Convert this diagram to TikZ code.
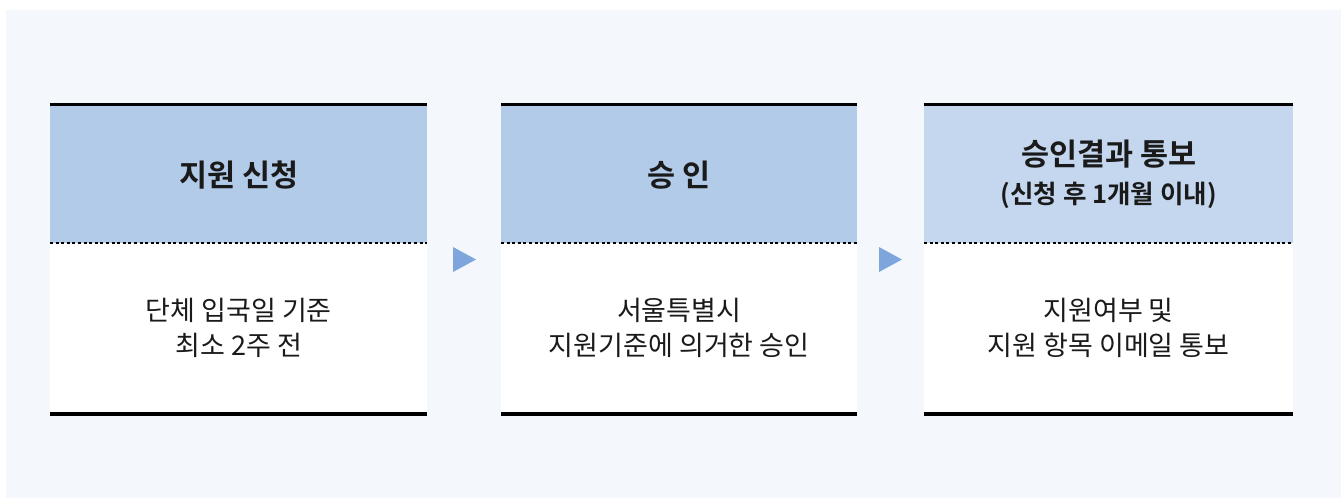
\documentclass[tikz,border=0pt]{standalone}
\usepackage{fontspec}
\setmainfont{Noto Sans CJK KR}[BoldFont={Noto Sans CJK KR Bold}]
\definecolor{bgc}{HTML}{F4F7FC}
\definecolor{hdrA}{HTML}{B1CBE8}
\definecolor{hdrB}{HTML}{C5D7EF}
\definecolor{arr}{HTML}{7EA6DC}
\definecolor{txt}{HTML}{1A1A1A}
\tikzset{
  hdr/.style={rectangle, inner sep=0pt, anchor=north west, minimum height=137pt, text=txt, align=center,
    font=\fontsize{30.5}{38}\selectfont\bfseries},
  bdy/.style={rectangle, inner sep=0pt, anchor=north west, fill=white, minimum height=169pt, text=txt, align=center,
    font=\fontsize{27}{35}\selectfont},
  thickline/.style={line width=3.5pt, black},
  dotline/.style={line width=2pt, black, dash pattern=on 3pt off 2.6pt},
  arrowtri/.style={fill=arr, draw=none}
}
\begin{document}
\begin{tikzpicture}[x=1pt,y=-1pt]
\useasboundingbox (0,0) rectangle (1341,498);
\fill[bgc] (6,10) rectangle (1341,498);
% box 1
\node[hdr, fill=hdrA, minimum width=377pt] (h1) at (50,106) {지원 신청};
\node[bdy, minimum width=377pt] (b1) at (50,243) {단체 입국일 기준\\최소 2주 전};
% box 2
\node[hdr, fill=hdrA, minimum width=356pt] (h2) at (501,106) {승 인};
\node[bdy, minimum width=356pt] (b2) at (501,243) {서울특별시\\지원기준에 의거한 승인};
% box 3
\node[hdr, fill=hdrB, minimum width=369pt] (h3) at (924,106) {승인결과 통보\\[0pt]{\fontsize{25.5}{28}\selectfont (신청 후 1개월 이내)}};
\node[bdy, minimum width=369pt] (b3) at (924,243) {지원여부 및\\지원 항목 이메일 통보};
\foreach \i in {1,2,3}{
  \draw[thickline] ([yshift=1.75pt]h\i.north west) -- ([yshift=1.75pt]h\i.north east);
  \draw[thickline] ([yshift=-1.75pt]b\i.south west) -- ([yshift=-1.75pt]b\i.south east);
  \draw[dotline] (h\i.south west) -- (h\i.south east);
}
% arrows
\coordinate (a1) at (453,247);
\coordinate (a2) at (879,247);
\fill[arrowtri] (a1) -- ++(23,12.5) -- ++(-23,12.5) -- cycle;
\fill[arrowtri] (a2) -- ++(23,12.5) -- ++(-23,12.5) -- cycle;
\end{tikzpicture}
\end{document}
